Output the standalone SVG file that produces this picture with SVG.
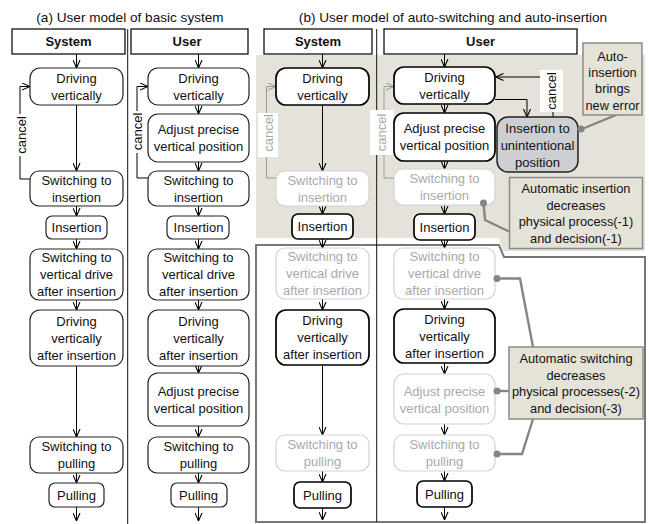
<svg xmlns="http://www.w3.org/2000/svg" width="649" height="524" viewBox="0 0 649 524">
<defs>
<style>
text{font-family:"Liberation Sans",Arial,sans-serif;font-size:13px;text-anchor:middle;fill:#111}
.title{font-size:13.6px}
.hdr rect{fill:#fff;stroke:#111;stroke-width:1.3}
.hdr text{font-weight:bold}
.n rect{fill:#fff;stroke:#222;stroke-width:1.2}
.nb rect{fill:#fff;stroke:#000;stroke-width:1.7}
.g rect{fill:#fff;stroke:#d2d2d2;stroke-width:1.2}
.g text{fill:#a9a9a9}
.ar{fill:none;stroke:#000;stroke-width:1;marker-end:url(#ah)}
.arg{fill:none;stroke:#9a9a9a;stroke-width:1;marker-end:url(#ahg)}
.co{fill:none;stroke:#858585;stroke-width:2.4}
.dot{fill:#858585}
.call rect{fill:#e5e2d8;stroke:#8a8a8a;stroke-width:1.5}
.call text{font-size:12.8px}
.div{stroke:#111;stroke-width:1}
</style>
<marker id="ah" viewBox="0 0 8 8" refX="8" refY="4" markerWidth="8" markerHeight="8" markerUnits="userSpaceOnUse" orient="auto"><path d="M0,0.5 L8,4 L0,7.5" fill="none" stroke="#000" stroke-width="1.1"/></marker>
<marker id="ahg" viewBox="0 0 8 8" refX="8" refY="4" markerWidth="8" markerHeight="8" markerUnits="userSpaceOnUse" orient="auto"><path d="M0,0.5 L8,4 L0,7.5" fill="none" stroke="#9a9a9a" stroke-width="1.1"/></marker>
</defs>
<rect width="649" height="524" fill="#fff"/>

<!-- background regions -->
<path d="M256,55 H645 V251 H503 L499,238 H256 Z" fill="#e5e2d9"/>
<path d="M256,245 H499 L504,257 H645 V522 H256 Z" fill="none" stroke="#777" stroke-width="2"/>

<!-- titles -->
<text class="title" x="130" y="22">(a) User model of basic system</text>
<text class="title" x="453" y="22">(b) User model of auto-switching and auto-insertion</text>

<!-- dividers -->
<line class="div" x1="127.7" y1="29" x2="127.7" y2="524"/>
<line class="div" x1="376.7" y1="29" x2="376.7" y2="522"/>

<!-- headers -->
<g id="hdr-a-system" class="hdr"><rect x="12" y="29" width="113" height="25"/><text x="68.5" y="46">System</text></g>
<g id="hdr-a-user" class="hdr"><rect x="131" y="29" width="117" height="25"/><text x="187" y="46">User</text></g>
<g id="hdr-b-system" class="hdr"><rect x="264" y="29" width="108" height="25"/><text x="318" y="46">System</text></g>
<g id="hdr-b-user" class="hdr"><rect x="384" y="29" width="193" height="25"/><text x="480.5" y="46">User</text></g>

<!-- connectors -->
<g id="connectors">
<!-- (a) system -->
<path class="ar" d="M76.5,54 V68"/>
<path class="ar" d="M76.5,105 V171"/>
<path class="ar" d="M76.5,206 V216"/>
<path class="ar" d="M76.5,239 V249"/>
<path class="ar" d="M76.5,300 V310"/>
<path class="ar" d="M76.5,366 V437"/>
<path class="ar" d="M76.5,473 V483"/>
<path class="ar" d="M76.5,507 V521"/>
<path class="ar" d="M30,179 H20 V86.5 H30"/>
<!-- (a) user -->
<path class="ar" d="M198.5,54 V68"/>
<path class="ar" d="M198.5,105 V114"/>
<path class="ar" d="M198.5,162 V171"/>
<path class="ar" d="M198.5,206 V216"/>
<path class="ar" d="M198.5,239 V249"/>
<path class="ar" d="M198.5,300 V310"/>
<path class="ar" d="M198.5,366 V373"/>
<path class="ar" d="M198.5,426 V437"/>
<path class="ar" d="M198.5,473 V483"/>
<path class="ar" d="M198.5,507 V521"/>
<path class="ar" d="M148,178 H137 V86.5 H148"/>
<!-- (b) system -->
<path class="ar" d="M322.5,54 V68"/>
<path class="ar" d="M322.5,105 V171"/>
<path class="ar" d="M322.5,206 V214"/>
<path class="ar" d="M322.5,239 V248"/>
<path class="ar" d="M322.5,299 V310"/>
<path class="ar" d="M322.5,365 V435"/>
<path class="ar" d="M322.5,471 V482"/>
<path class="ar" d="M322.5,508 V520"/>
<path class="arg" d="M276,178 H266.5 V86.5 H276"/>
<!-- (b) user -->
<path class="ar" d="M444.5,54 V67"/>
<path class="ar" d="M444.5,104 V113"/>
<path class="ar" d="M444.5,161 V169"/>
<path class="ar" d="M444.5,205 V214"/>
<path class="ar" d="M444.5,240 V248"/>
<path class="ar" d="M444.5,299 V309"/>
<path class="ar" d="M444.5,363 V374"/>
<path class="ar" d="M444.5,424 V435"/>
<path class="ar" d="M444.5,471 V481"/>
<path class="ar" d="M444.5,507 V520"/>
<path class="arg" d="M394,178 H384 V86.5 H394"/>
<path class="ar" d="M553,117 V77 H495.5"/>
<path class="ar" d="M495,99.5 H527 V117"/>
</g>

<!-- cancel labels -->
<g id="cancel-labels">
<rect x="14" y="114" width="14" height="42" fill="#fff"/>
<text transform="translate(25.5,135) rotate(-90)">cancel</text>
<rect x="131" y="111" width="14" height="42" fill="#fff"/>
<text transform="translate(142,131.5) rotate(-90)">cancel</text>
<rect x="258" y="113" width="20" height="44" fill="#fff"/>
<text transform="translate(272.5,133) rotate(-90)" fill="#a9a9a9" style="fill:#a9a9a9">cancel</text>
<rect x="370" y="110" width="24" height="45" fill="#fff"/>
<text transform="translate(386,132.5) rotate(-90)" style="fill:#a9a9a9">cancel</text>
<rect x="540" y="70" width="23" height="42" fill="#fff"/>
<text transform="translate(556,91) rotate(-90)">cancel</text>
</g>

<!-- (a) system nodes -->
<g id="a-sys-drive" class="n"><rect x="30" y="68" width="93" height="37" rx="10"/><text x="76.5" y="82.5">Driving</text><text x="76.5" y="99.5">vertically</text></g>
<g id="a-sys-swins" class="n"><rect x="30" y="171" width="93" height="35" rx="9"/><text x="76.5" y="184.5">Switching to</text><text x="76.5" y="201.5">insertion</text></g>
<g id="a-sys-ins" class="n"><rect x="46" y="216" width="61" height="23" rx="6"/><text x="76.5" y="232">Insertion</text></g>
<g id="a-sys-swvd" class="n"><rect x="30" y="249" width="93" height="51" rx="9"/><text x="76.5" y="262">Switching to</text><text x="76.5" y="279">vertical drive</text><text x="76.5" y="296">after insertion</text></g>
<g id="a-sys-dva" class="n"><rect x="30" y="310" width="93" height="56" rx="10"/><text x="76.5" y="325.5">Driving</text><text x="76.5" y="342.5">vertically</text><text x="76.5" y="359.5">after insertion</text></g>
<g id="a-sys-swpull" class="n"><rect x="30" y="437" width="93" height="36" rx="9"/><text x="76.5" y="450.5">Switching to</text><text x="76.5" y="467.5">pulling</text></g>
<g id="a-sys-pull" class="n"><rect x="49" y="483" width="55" height="24" rx="6"/><text x="76.5" y="499.5">Pulling</text></g>

<!-- (a) user nodes -->
<g id="a-usr-drive" class="n"><rect x="148" y="68" width="101" height="37" rx="10"/><text x="198.5" y="82.5">Driving</text><text x="198.5" y="99.5">vertically</text></g>
<g id="a-usr-adj" class="n"><rect x="148" y="114" width="101" height="48" rx="10"/><text x="198.5" y="134">Adjust precise</text><text x="198.5" y="151">vertical position</text></g>
<g id="a-usr-swins" class="n"><rect x="148" y="171" width="101" height="35" rx="9"/><text x="198.5" y="184.5">Switching to</text><text x="198.5" y="201.5">insertion</text></g>
<g id="a-usr-ins" class="n"><rect x="167" y="216" width="62" height="23" rx="6"/><text x="198.5" y="232">Insertion</text></g>
<g id="a-usr-swvd" class="n"><rect x="148" y="249" width="101" height="51" rx="9"/><text x="198.5" y="262">Switching to</text><text x="198.5" y="279">vertical drive</text><text x="198.5" y="296">after insertion</text></g>
<g id="a-usr-dva" class="n"><rect x="148" y="310" width="101" height="56" rx="10"/><text x="198.5" y="325.5">Driving</text><text x="198.5" y="342.5">vertically</text><text x="198.5" y="359.5">after insertion</text></g>
<g id="a-usr-adj2" class="n"><rect x="148" y="373" width="101" height="53" rx="10"/><text x="198.5" y="395.5">Adjust precise</text><text x="198.5" y="412.5">vertical position</text></g>
<g id="a-usr-swpull" class="n"><rect x="148" y="437" width="101" height="36" rx="9"/><text x="198.5" y="450.5">Switching to</text><text x="198.5" y="467.5">pulling</text></g>
<g id="a-usr-pull" class="n"><rect x="171" y="483" width="56" height="24" rx="6"/><text x="198.5" y="499.5">Pulling</text></g>

<!-- (b) system nodes -->
<g id="b-sys-drive" class="nb"><rect x="276" y="68" width="93" height="37" rx="10"/><text x="322.5" y="82.5">Driving</text><text x="322.5" y="99.5">vertically</text></g>
<g id="b-sys-swins" class="g"><rect x="276" y="171" width="93" height="35" rx="9"/><text x="322.5" y="184.5">Switching to</text><text x="322.5" y="201.5">insertion</text></g>
<g id="b-sys-ins" class="nb"><rect x="292" y="214" width="61" height="25" rx="6"/><text x="322.5" y="231">Insertion</text></g>
<g id="b-sys-swvd" class="g"><rect x="276" y="248" width="93" height="51" rx="9"/><text x="322.5" y="261">Switching to</text><text x="322.5" y="278">vertical drive</text><text x="322.5" y="295">after insertion</text></g>
<g id="b-sys-dva" class="nb"><rect x="276" y="310" width="93" height="55" rx="10"/><text x="322.5" y="325">Driving</text><text x="322.5" y="342">vertically</text><text x="322.5" y="359">after insertion</text></g>
<g id="b-sys-swpull" class="g"><rect x="276" y="435" width="93" height="36" rx="9"/><text x="322.5" y="448.5">Switching to</text><text x="322.5" y="465.5">pulling</text></g>
<g id="b-sys-pull" class="nb"><rect x="294" y="482" width="57" height="26" rx="6"/><text x="322.5" y="499.5">Pulling</text></g>

<!-- (b) user nodes -->
<g id="b-usr-drive" class="nb"><rect x="394" y="67" width="101" height="37" rx="10"/><text x="444.5" y="81.5">Driving</text><text x="444.5" y="98.5">vertically</text></g>
<g id="b-usr-adj" class="nb"><rect x="394" y="113" width="101" height="48" rx="10"/><text x="444.5" y="133">Adjust precise</text><text x="444.5" y="150">vertical position</text></g>
<g id="b-usr-swins" class="g"><rect x="394" y="169" width="101" height="36" rx="9"/><text x="444.5" y="182.5">Switching to</text><text x="444.5" y="199.5">insertion</text></g>
<g id="b-usr-ins" class="nb"><rect x="414" y="214" width="61" height="26" rx="6"/><text x="444.5" y="231.5">Insertion</text></g>
<g id="b-usr-swvd" class="g"><rect x="394" y="248" width="101" height="51" rx="9"/><text x="444.5" y="261">Switching to</text><text x="444.5" y="278">vertical drive</text><text x="444.5" y="295">after insertion</text></g>
<g id="b-usr-dva" class="nb"><rect x="394" y="309" width="101" height="54" rx="10"/><text x="444.5" y="324">Driving</text><text x="444.5" y="341">vertically</text><text x="444.5" y="358">after insertion</text></g>
<g id="b-usr-adj2" class="g"><rect x="394" y="374" width="101" height="50" rx="10"/><text x="444.5" y="395.5">Adjust precise</text><text x="444.5" y="412.5">vertical position</text></g>
<g id="b-usr-swpull" class="g"><rect x="394" y="435" width="101" height="36" rx="9"/><text x="444.5" y="448.5">Switching to</text><text x="444.5" y="465.5">pulling</text></g>
<g id="b-usr-pull" class="nb"><rect x="417" y="481" width="55" height="26" rx="6"/><text x="444.5" y="498.5">Pulling</text></g>
<g id="b-usr-unint"><rect x="497" y="117" width="81" height="55" rx="11" fill="#cdcfd3" stroke="#222" stroke-width="1.5"/><text x="537.5" y="133">Insertion to</text><text x="537.5" y="150">unintentional</text><text x="537.5" y="167">position</text></g>

<!-- callouts -->
<g id="callout-connectors">
<path class="co" d="M616,115 L582,129"/><circle class="dot" cx="581" cy="129" r="3.5"/>
<path class="co" d="M483.5,203 L485,220 L510,232"/><circle class="dot" cx="483.5" cy="203" r="3.5"/>
<path class="co" d="M497,278.5 H520 L533,347"/><circle class="dot" cx="497" cy="278.5" r="3.5"/>
<path class="co" d="M497,391 H509"/><circle class="dot" cx="497" cy="391" r="3.5"/>
<path class="co" d="M497,454 H522 L533,419"/><circle class="dot" cx="497" cy="454" r="3.5"/>
</g>
<g id="callout-autoins-error" class="call"><rect x="583" y="43" width="59" height="72"/><text x="612.5" y="61">Auto-</text><text x="612.5" y="77">insertion</text><text x="612.5" y="93">brings</text><text x="612.5" y="109.5">new error</text></g>
<g id="callout-autoins" class="call"><rect x="509.5" y="177.5" width="133" height="71"/><text x="576" y="193">Automatic insertion</text><text x="576" y="209.5">decreases</text><text x="576" y="226">physical process(-1)</text><text x="576" y="242.5">and decision(-1)</text></g>
<g id="callout-autosw" class="call"><rect x="509" y="347" width="134" height="72"/><text x="576" y="363">Automatic switching</text><text x="576" y="379.5">decreases</text><text x="576" y="396">physical processes(-2)</text><text x="576" y="412.5">and decision(-3)</text></g>
</svg>
